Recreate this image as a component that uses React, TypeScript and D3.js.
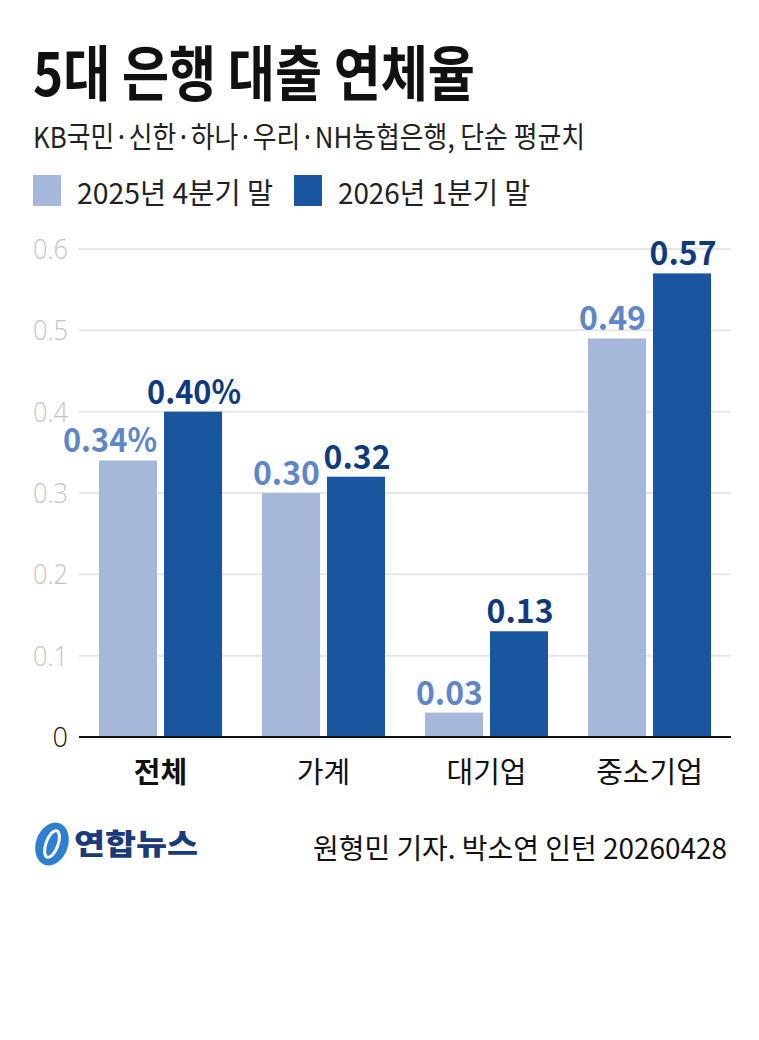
import React, { useEffect, useRef } from 'react';
import * as d3 from 'd3';

const categories = ['전체', '가계', '대기업', '중소기업'];
const seriesNames = ['2025년 4분기 말', '2026년 1분기 말'];
const values2025q4 = [0.34, 0.30, 0.03, 0.49];
const values2026q1 = [0.40, 0.32, 0.13, 0.57];
const labels2025q4 = ['0.34%', '0.30', '0.03', '0.49'];
const labels2026q1 = ['0.40%', '0.32', '0.13', '0.57'];
const yTicks = [0, 0.1, 0.2, 0.3, 0.4, 0.5, 0.6];

const FONT = '"Noto Sans CJK KR", "Noto Sans", sans-serif';
const barColors = ['#a5b8d9', '#1a55a0'];
const labelColors = ['#5f86c6', '#0f3b7c'];

const App = () => {
    const svgRef = useRef<SVGSVGElement>(null);

    useEffect(() => {
        const width = 759;
        const height = 1040;
        const svg = d3.select(svgRef.current)
            .attr('width', width)
            .attr('height', height);
        svg.selectAll('*').remove();

        svg.append('rect').attr('width', width).attr('height', height).attr('fill', '#fff');

        // title + subtitle
        svg.append('text')
            .attr('x', 33).attr('y', 96)
            .attr('font-family', FONT).attr('font-weight', 700)
            .attr('font-size', 60)
            .attr('textLength', 442).attr('lengthAdjust', 'spacingAndGlyphs')
            .attr('fill', '#111')
            .text('5대 은행 대출 연체율');

        svg.append('text')
            .attr('x', 33).attr('y', 148)
            .attr('font-family', FONT).attr('font-size', 29)
            .attr('textLength', 552).attr('lengthAdjust', 'spacingAndGlyphs')
            .attr('fill', '#222')
            .text('KB국민·신한·하나·우리·NH농협은행, 단순 평균치');

        // legend
        const legendX = [33, 294];
        const legendW = [196, 192];
        seriesNames.forEach((name, i) => {
            svg.append('rect')
                .attr('x', legendX[i]).attr('y', 175)
                .attr('width', 28).attr('height', 31)
                .attr('fill', barColors[i]);
            svg.append('text')
                .attr('x', legendX[i] + 44).attr('y', 204)
                .attr('font-family', FONT).attr('font-size', 29)
                .attr('textLength', legendW[i]).attr('lengthAdjust', 'spacingAndGlyphs')
                .attr('fill', '#222')
                .text(name);
        });

        // chart
        const x0 = d3.scaleBand()
            .domain(categories)
            .range([79, 731])
            .paddingInner(0.245)
            .paddingOuter(0.1225);

        const x1 = d3.scaleBand()
            .domain(['a', 'b'])
            .range([0, x0.bandwidth()])
            .paddingInner(0.108);

        const y = d3.scaleLinear()
            .domain([0, 0.6])
            .range([737, 249]);

        // grid lines
        svg.append('g')
            .selectAll('line')
            .data(yTicks.filter(t => t > 0))
            .enter()
            .append('line')
            .attr('x1', 79).attr('x2', 731)
            .attr('y1', d => y(d)).attr('y2', d => y(d))
            .attr('stroke', '#e6e6e6').attr('stroke-width', 2);

        // y tick labels
        svg.append('g')
            .selectAll('text')
            .data(yTicks)
            .enter()
            .append('text')
            .attr('x', 68)
            .attr('y', d => y(d) + 10)
            .attr('text-anchor', 'end')
            .attr('font-family', '"Open Sans", sans-serif')
            .attr('font-weight', 300)
            .attr('font-size', 27)
            .attr('textLength', d => (d === 0 ? null : 35))
            .attr('lengthAdjust', 'spacingAndGlyphs')
            .attr('fill', d => (d === 0 ? '#111' : '#c4c4c4'))
            .text(d => (d === 0 ? '0' : d3.format('.1f')(d)));

        const series = [values2025q4, values2026q1];
        const seriesLabels = [labels2025q4, labels2026q1];
        const keys = ['a', 'b'];

        series.forEach((vals, si) => {
            const g = svg.append('g');
            g.selectAll('rect')
                .data(vals)
                .enter()
                .append('rect')
                .attr('x', (d, i) => (x0(categories[i]) as number) + (x1(keys[si]) as number))
                .attr('y', d => y(d))
                .attr('width', x1.bandwidth())
                .attr('height', d => y(0) - y(d))
                .attr('fill', barColors[si]);

            // light labels hug the bar's right edge, dark ones are centred
            g.selectAll('text')
                .data(vals)
                .enter()
                .append('text')
                .attr('x', (d, i) => {
                    const bx = (x0(categories[i]) as number) + (x1(keys[si]) as number);
                    return si === 0 ? bx + x1.bandwidth() : bx + x1.bandwidth() / 2 + 1;
                })
                .attr('y', d => y(d) - 8)
                .attr('text-anchor', si === 0 ? 'end' : 'middle')
                .attr('font-family', FONT)
                .attr('font-weight', 700)
                .attr('font-size', 33)
                .attr('textLength', (d, i) => (seriesLabels[si][i].length > 4 ? 94 : 67))
                .attr('lengthAdjust', 'spacingAndGlyphs')
                .attr('fill', labelColors[si])
                .text((d, i) => seriesLabels[si][i]);
        });

        // baseline
        svg.append('line')
            .attr('x1', 79).attr('x2', 731)
            .attr('y1', y(0)).attr('y2', y(0))
            .attr('stroke', '#111').attr('stroke-width', 2);

        // category labels
        svg.append('g')
            .selectAll('text')
            .data(categories)
            .enter()
            .append('text')
            .attr('x', d => (x0(d) as number) + x0.bandwidth() / 2)
            .attr('y', 783)
            .attr('text-anchor', 'middle')
            .attr('font-family', FONT)
            .attr('font-weight', (d, i) => (i === 0 ? 700 : 400))
            .attr('font-size', 29)
            .attr('fill', '#111')
            .text(d => d);

        // logo
        const logo = svg.append('g').attr('transform', 'translate(52,844)');
        logo.append('ellipse')
            .attr('rx', 16).attr('ry', 22)
            .attr('transform', 'rotate(20)')
            .attr('fill', '#2f7fd0');
        logo.append('ellipse')
            .attr('rx', 6).attr('ry', 14)
            .attr('transform', 'rotate(20)')
            .attr('fill', 'none')
            .attr('stroke', '#fff').attr('stroke-width', 3);
        svg.append('text')
            .attr('x', 74).attr('y', 855)
            .attr('font-family', FONT).attr('font-weight', 900)
            .attr('font-size', 29)
            .attr('textLength', 124).attr('lengthAdjust', 'spacingAndGlyphs')
            .attr('fill', '#1b3a78')
            .text('연합뉴스');

        // source
        svg.append('text')
            .attr('x', 727).attr('y', 859)
            .attr('text-anchor', 'end')
            .attr('font-family', FONT).attr('font-size', 28)
            .attr('textLength', 414).attr('lengthAdjust', 'spacingAndGlyphs')
            .attr('fill', '#111')
            .text('원형민 기자. 박소연 인턴  20260428');
    }, []);

    return (
        <svg ref={svgRef} style={{ position: 'absolute', left: 0, top: 0 }}></svg>
    );
};

export default App;
